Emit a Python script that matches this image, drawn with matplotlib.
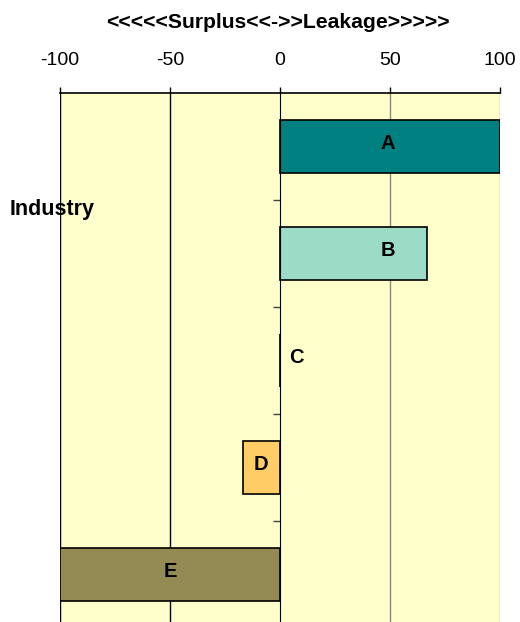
import matplotlib
matplotlib.use("Agg")
import matplotlib.pyplot as plt

categories = ['A', 'B', 'C', 'D', 'E']
values = [100, 67, 0, -17, -100]
label_pos = [49, 49, 7.5, -8.5, -50]
colors = ['#008080', '#9cdcc6', '#ffffcc', '#ffcc66', '#948b54']
xticks = [-100, -50, 0, 50, 100]

plt.rcParams['font.family'] = ['Liberation Sans', 'DejaVu Sans']

W, H = 520, 622
fig = plt.figure(figsize=(W / 100, H / 100), dpi=100)
left, right, top, bottom = 60, 500, 93, 628
ax = fig.add_axes([left / W, 1 - bottom / H, (right - left) / W, (bottom - top) / H])
ax.set_facecolor('#ffffcc')

y = list(range(len(categories)))
ax.barh(y, values, height=0.49, color=colors, edgecolor='black', linewidth=1.2, zorder=3)
for yi, cat, lx in zip(y, categories, label_pos):
    ax.annotate(cat, (lx, yi), xytext=(0, 2.5), textcoords='offset points',
                ha='center', va='center', fontsize=14.5, fontweight='bold', zorder=4)

ax.set_xlim(-100, 100)
ax.set_ylim(len(categories) - 0.5, -0.5)

# gridlines
for gx in xticks:
    if gx == 0:
        continue
    col = 'black' if gx < 0 else '#8a8a80'
    ax.axvline(gx, color=col, linewidth=1.0, zorder=1)

ax.xaxis.tick_top()
ax.set_xticks(xticks)
ax.set_xticklabels([str(v) for v in xticks])
ax.tick_params(axis='x', direction='out', length=4.5, width=1, pad=13, labelsize=14, colors='black')

ax.spines['left'].set_position(('data', 0))
ax.spines['left'].set_zorder(5)
ax.set_yticks([i + 0.5 for i in range(len(categories) - 1)])
ax.set_yticklabels([])
ax.tick_params(axis='y', direction='out', length=5, width=1, color='#444444')
ax.spines['right'].set_visible(False)
ax.spines['bottom'].set_visible(False)
ax.spines['top'].set_linewidth(1.2)

fig.text((107 + 448) / 2 / W, 1 - 22 / H, '<<<<<Surplus<<->>Leakage>>>>>',
         ha='center', va='center', fontsize=15.2, fontweight='bold')
fig.text(10 / W, 1 - 210 / H, 'Industry', ha='left', va='center', fontsize=15.5, fontweight='bold')

fig.savefig('out.png', dpi=100)
